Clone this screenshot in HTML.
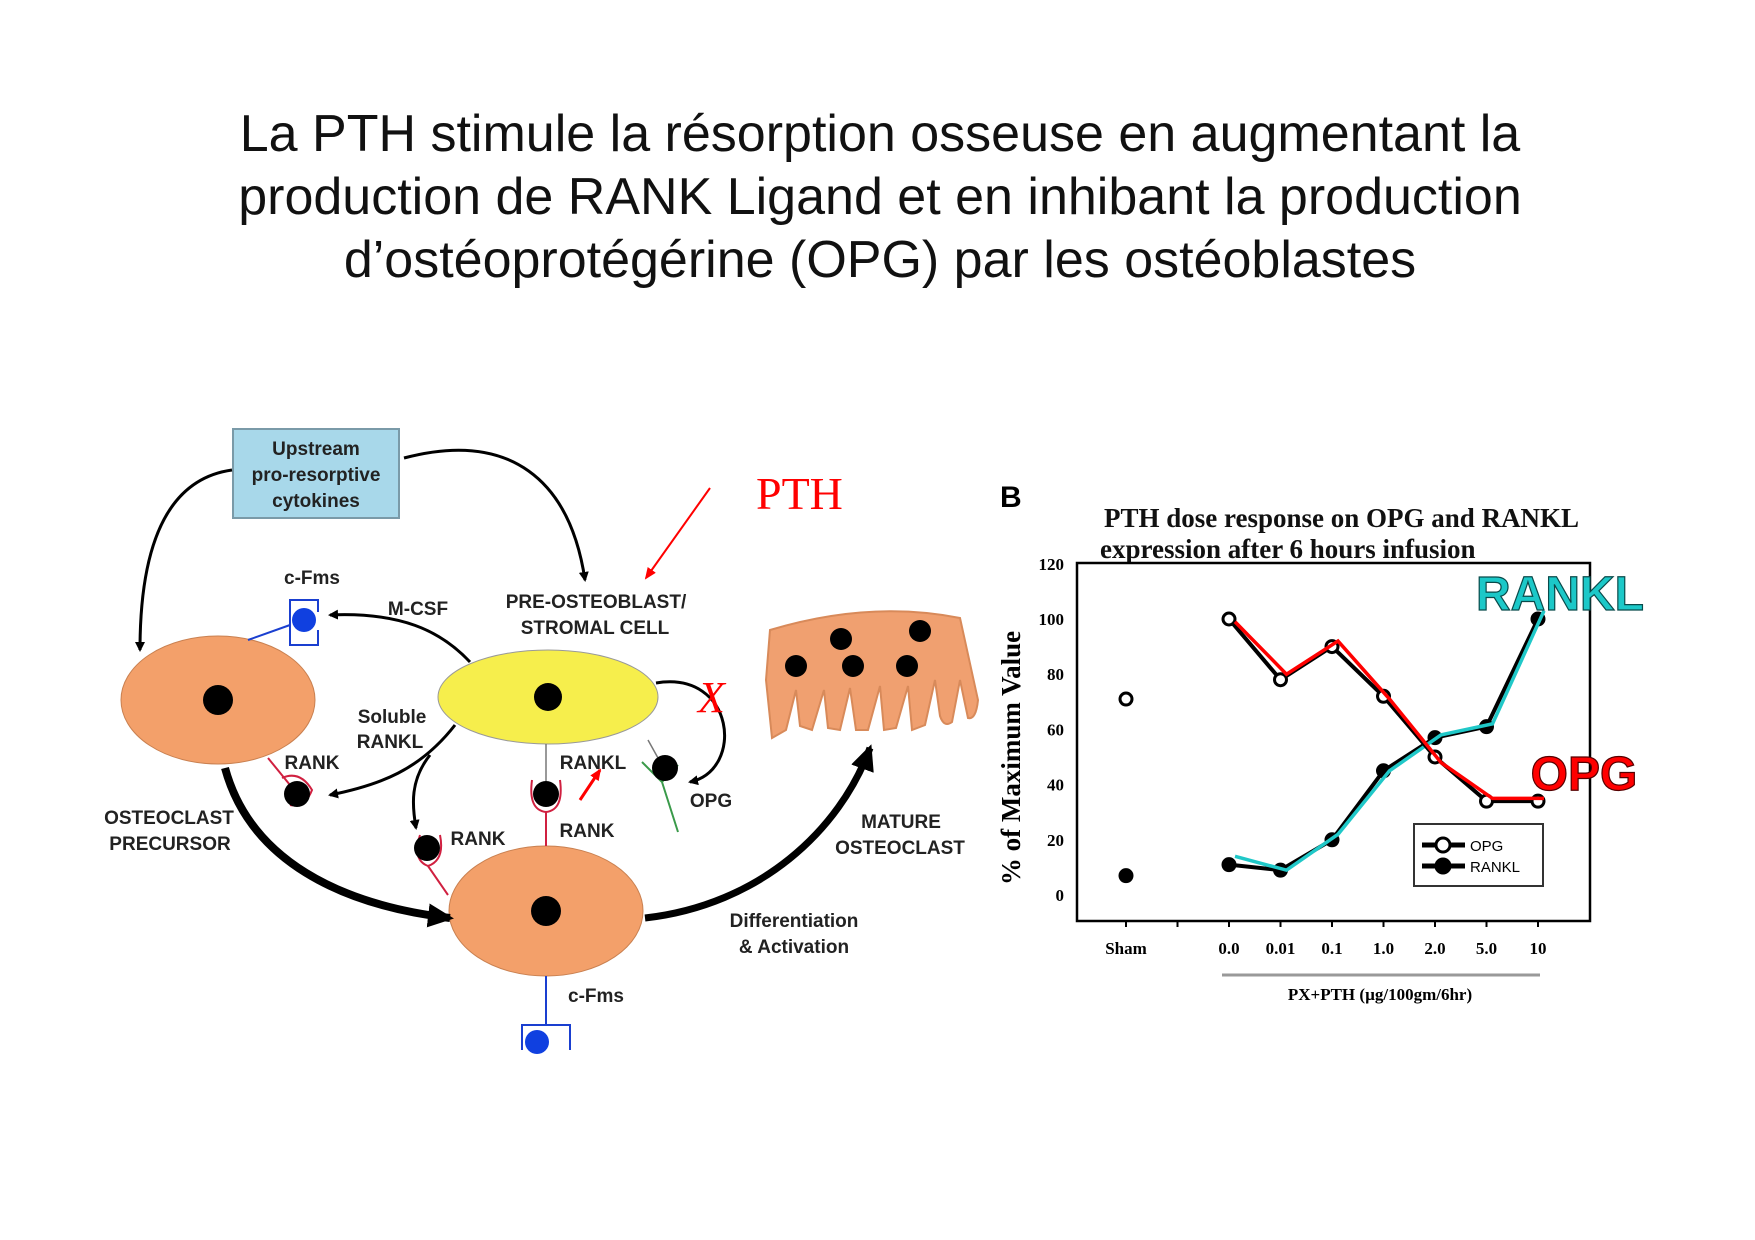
<!DOCTYPE html>
<html><head><meta charset="utf-8"><style>
html,body{margin:0;padding:0;background:#fff;}
svg{display:block;}
.t{font-family:"Liberation Sans",sans-serif;}
.lab{font-family:"Liberation Sans",sans-serif;font-weight:bold;font-size:19px;fill:#222;}
.ser{font-family:"Liberation Serif",serif;}
</style></head><body>
<svg id="page" width="1755" height="1240" viewBox="0 0 1755 1240" xmlns="http://www.w3.org/2000/svg">
<defs>
<marker id="ah" markerWidth="10" markerHeight="10" refX="8" refY="5" orient="auto" markerUnits="userSpaceOnUse"><path d="M0,0 L10,5 L0,10 z" fill="#000"/></marker>
<marker id="ahb" markerWidth="26" markerHeight="24" refX="22" refY="12" orient="auto" markerUnits="userSpaceOnUse"><path d="M0,0 L26,12 L0,24 z" fill="#000"/></marker>
<marker id="ahr" markerWidth="12" markerHeight="12" refX="10" refY="6" orient="auto" markerUnits="userSpaceOnUse"><path d="M0,1 L12,6 L0,11 z" fill="#f00"/></marker>
</defs>
<g class="t" font-size="52" fill="#111" text-anchor="middle">
<text x="880" y="151">La PTH stimule la résorption osseuse en augmentant la</text>
<text x="880" y="214">production de RANK Ligand et en inhibant la production</text>
<text x="880" y="277">d’ostéoprotégérine (OPG) par les ostéoblastes</text>
</g>

<g>
<rect x="233" y="429" width="166" height="89" fill="#a8d8ea" stroke="#7a9aa8" stroke-width="2"/>
<g class="lab" text-anchor="middle" font-size="20"><text x="316" y="455">Upstream</text><text x="316" y="481">pro-resorptive</text><text x="316" y="507">cytokines</text></g>
<path d="M232,470 C160,480 140,560 140,650" fill="none" stroke="#000" stroke-width="3" marker-end="url(#ah)"/>
<path d="M404,458 C510,430 570,480 585,580" fill="none" stroke="#000" stroke-width="3" marker-end="url(#ah)"/>
<path d="M710,488 L646,578" stroke="#f00" stroke-width="2" marker-end="url(#ahr)"/>
<text class="ser" x="756" y="509" font-size="46" fill="#f00">PTH</text>

<ellipse cx="218" cy="700" rx="97" ry="64" fill="#f3a06a" stroke="#c98050"/>
<circle cx="218" cy="700" r="15" fill="#000"/>
<ellipse cx="548" cy="697" rx="110" ry="47" fill="#f6ee4c" stroke="#999"/>
<circle cx="548" cy="697" r="14" fill="#000"/>
<ellipse cx="546" cy="911" rx="97" ry="65" fill="#f3a06a" stroke="#c98050"/>
<circle cx="546" cy="911" r="15" fill="#000"/>
<path d="M770,630 Q870,600 960,618 L978,700 Q976,720 968,718 L960,680 L952,722 Q944,728 940,716 L935,680 L925,725 L912,730 L908,686 L896,728 L884,730 L880,686 L868,730 L856,730 L850,688 L840,730 L828,728 L824,690 L812,730 L800,726 L796,690 L786,730 L772,738 L766,680 Z" fill="#f0a070" stroke="#d88a5a" stroke-width="2"/>
<g fill="#000"><circle cx="841" cy="639" r="11"/><circle cx="920" cy="631" r="11"/><circle cx="796" cy="666" r="11"/><circle cx="853" cy="666" r="11"/><circle cx="907" cy="666" r="11"/></g>

<path d="M248,640 L290,625" stroke="#1a3fd0" stroke-width="2"/>
<path d="M300,600 L290,600 L290,645 L300,645 M300,600 L318,600 L318,612 M318,630 L318,645 L300,645" fill="none" stroke="#1a3fd0" stroke-width="2"/>
<circle cx="304" cy="620" r="12" fill="#1040e0"/>
<path d="M546,976 L546,1025 M522,1050 L522,1025 L570,1025 L570,1050" fill="none" stroke="#1a3fd0" stroke-width="2"/>
<circle cx="537" cy="1042" r="12" fill="#1040e0"/>
<path d="M268,758 L290,785" stroke="#d02040" stroke-width="2"/>
<path d="M282,778 Q300,770 312,790 Q305,808 290,805" fill="none" stroke="#d02040" stroke-width="2"/>
<circle cx="297" cy="794" r="13" fill="#000"/>
<path d="M420,835 Q412,860 428,866 Q445,860 440,835 M428,866 L448,895" fill="none" stroke="#d02040" stroke-width="2"/>
<circle cx="427" cy="848" r="13" fill="#000"/>
<path d="M532,780 Q528,810 546,812 Q564,810 560,780 M546,812 L546,846" fill="none" stroke="#d02040" stroke-width="2"/>
<circle cx="546" cy="794" r="13" fill="#000"/>
<path d="M546,744 L546,781" stroke="#777" stroke-width="1.5"/>
<path d="M648,740 L658,758" stroke="#777" stroke-width="1.5"/>
<path d="M642,762 L662,782 L678,832 M662,782 L678,765" fill="none" stroke="#3a9a4a" stroke-width="2"/>
<circle cx="665" cy="768" r="13" fill="#000"/>

<path d="M470,662 C440,630 400,612 330,615" fill="none" stroke="#000" stroke-width="3" marker-end="url(#ah)"/>
<path d="M455,725 C420,770 380,785 330,795" fill="none" stroke="#000" stroke-width="3" marker-end="url(#ah)"/>
<path d="M430,755 C410,780 412,805 416,828" fill="none" stroke="#000" stroke-width="3" marker-end="url(#ah)"/>
<path d="M656,683 C735,670 745,770 690,782" fill="none" stroke="#000" stroke-width="3" marker-end="url(#ah)"/>
<path d="M225,768 C250,860 340,905 450,918" fill="none" stroke="#000" stroke-width="8" marker-end="url(#ahb)"/>
<path d="M645,918 C760,905 840,830 870,748" fill="none" stroke="#000" stroke-width="7" marker-end="url(#ahb)"/>
<path d="M580,800 L600,770" stroke="#f00" stroke-width="3" marker-end="url(#ahr)"/>
<text class="ser" x="698" y="712" font-size="44" font-style="italic" fill="#f00">X</text>

<g class="lab" text-anchor="middle">
<text x="312" y="584">c-Fms</text><text x="418" y="615">M-CSF</text>
<text x="596" y="608">PRE-OSTEOBLAST/</text><text x="595" y="634">STROMAL CELL</text>
<text x="392" y="723">Soluble</text><text x="390" y="748">RANKL</text>
<text x="312" y="769">RANK</text><text x="593" y="769">RANKL</text><text x="711" y="807">OPG</text>
<text x="169" y="824">OSTEOCLAST</text><text x="170" y="850">PRECURSOR</text>
<text x="478" y="845">RANK</text><text x="587" y="837">RANK</text>
<text x="901" y="828">MATURE</text><text x="900" y="854">OSTEOCLAST</text>
<text x="794" y="927">Differentiation</text><text x="794" y="953">&amp; Activation</text>
<text x="596" y="1002">c-Fms</text>
</g>
</g>

<g id="chart">
<text class="t" x="1000" y="507" font-size="30" font-weight="bold" fill="#000">B</text>
<g class="ser" font-weight="bold" font-size="27" fill="#111">
<text x="1104" y="527">PTH dose response on OPG and RANKL</text>
<text x="1100" y="558">expression after 6 hours infusion</text>
</g>
<rect x="1077" y="563" width="513" height="358" fill="none" stroke="#000" stroke-width="2.5"/>
<text class="ser" font-weight="bold" font-size="27" text-anchor="middle" transform="translate(1020,758) rotate(-90)">% of Maximum Value</text>
<line x1="1222" y1="975" x2="1540" y2="975" stroke="#999" stroke-width="3"/>
<text class="ser" font-weight="bold" font-size="17" x="1380" y="1000" text-anchor="middle">PX+PTH (µg/100gm/6hr)</text>
<g id="marks"></g>
<g>
<rect x="1414" y="824" width="129" height="62" fill="#fff" stroke="#333" stroke-width="2"/>
<line x1="1422" y1="845" x2="1465" y2="845" stroke="#000" stroke-width="5"/><circle cx="1443" cy="845" r="7" fill="#fff" stroke="#000" stroke-width="3"/>
<line x1="1422" y1="866" x2="1465" y2="866" stroke="#000" stroke-width="5"/><circle cx="1443" cy="866" r="7" fill="#000" stroke="#000" stroke-width="3"/>
<text class="t" x="1470" y="851" font-size="15">OPG</text><text class="t" x="1470" y="872" font-size="15">RANKL</text>
</g>
<text class="t" x="1560" y="610" font-size="48" font-weight="bold" fill="#1cc8c8" stroke="#0a4a4a" stroke-width="1.2" text-anchor="middle">RANKL</text>
<text class="t" x="1584" y="790" font-size="48" font-weight="bold" fill="#f00" stroke="#500" stroke-width="1.2" text-anchor="middle">OPG</text>
</g>
</svg>
<script>
const categories = ["Sham", "", "0.0", "0.01", "0.1", "1.0", "2.0", "5.0", "10"];
const yTicks = [0, 20, 40, 60, 80, 100, 120];
const opgSham = 71;
const rankShamVal = 7;
const opgValues = [100, 78, 90, 72, 50, 34, 34];
const ranklValues = [11, 9, 20, 45, 57, 61, 100];
const opgOverlay = [99, 80, 92, 71, 48, 35, 35];
const ranklOverlay = [14, 9, 22, 45, 58, 62, 103];

const NS = "http://www.w3.org/2000/svg";
const marks = document.getElementById("marks");
function xPos(i){ return 1126 + i * 51.5; }
function yPos(v){ return 895 - v * 2.76; }
function mk(tag, attrs, parent){ const e = document.createElementNS(NS, tag); for (const k in attrs) e.setAttribute(k, attrs[k]); (parent||marks).appendChild(e); return e; }

yTicks.forEach(function(t){
  const tx = mk("text", {x: 1064, y: yPos(t) + 6, "text-anchor": "end", "font-size": 17, "font-family": "Liberation Serif, serif", "font-weight": "bold"});
  tx.textContent = t;
  
  
});
categories.forEach(function(c, i){
  const tk = mk("line", {x1: xPos(i), x2: xPos(i), y1: 921, y2: 927, stroke: "#000", "stroke-width": 2});
  
  
  if (c) {
    const tx = mk("text", {x: xPos(i), y: 954, "text-anchor": "middle", "font-size": 17, "font-family": "Liberation Serif, serif", "font-weight": "bold"});
    tx.textContent = c;
    
    
  }
});
function series(vals, overlay, color, filled, name){
  const pts = vals.map(function(v, k){ return xPos(k + 2) + "," + yPos(v); }).join(" ");
  const pl = mk("polyline", {points: pts, fill: "none", stroke: "#000", "stroke-width": 4});
  
  
  vals.forEach(function(v, k){
    const c = mk("circle", {cx: xPos(k + 2), cy: yPos(v), r: 6, fill: filled ? "#000" : "#fff", stroke: "#000", "stroke-width": 3});
    
    
  });
  const op = overlay.map(function(v, k){ return (xPos(k + 2) + 6) + "," + yPos(v); }).join(" ");
  const ol = mk("polyline", {points: op, fill: "none", stroke: color, "stroke-width": 3.5});
  
  
}
series(ranklValues, ranklOverlay, "#20c8c8", true, "rankl");
series(opgValues, opgOverlay, "#f00", false, "opg");
const s1 = mk("circle", {cx: xPos(0), cy: yPos(opgSham), r: 6, fill: "#fff", stroke: "#000", "stroke-width": 3});


const s2 = mk("circle", {cx: xPos(0), cy: yPos(rankShamVal), r: 6, fill: "#000", stroke: "#000", "stroke-width": 3});


</script>
</body></html>
